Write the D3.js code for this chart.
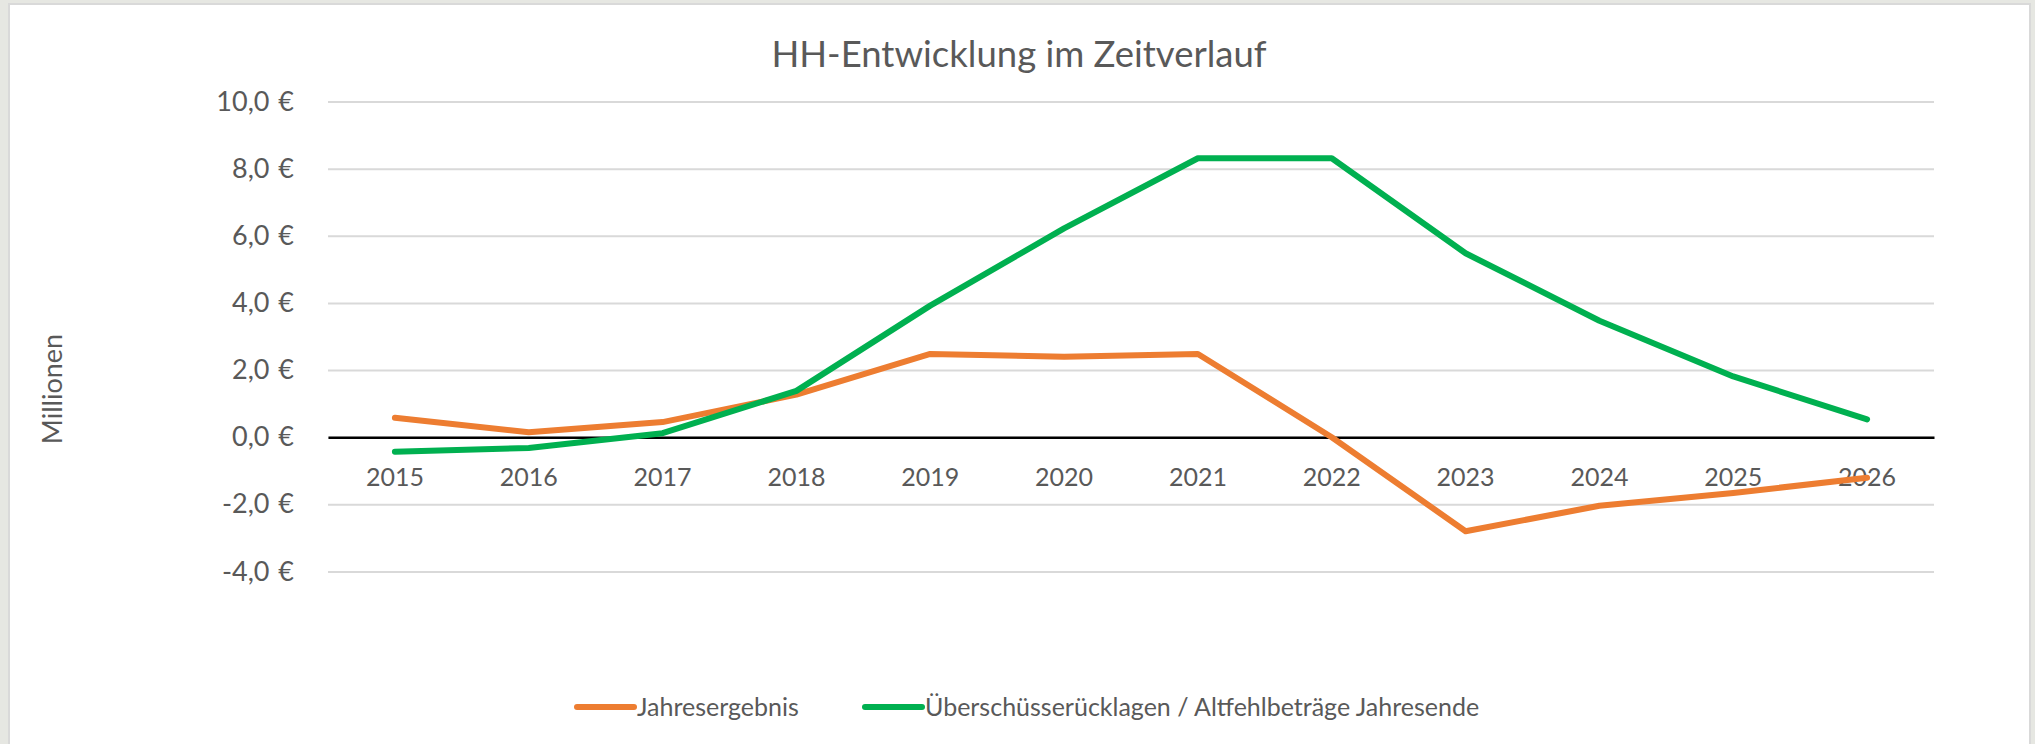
<!DOCTYPE html>
<html>
<head>
<meta charset="utf-8">
<script src="https://cdn.jsdelivr.net/npm/d3@7"></script>
<style>
  html, body { margin: 0; padding: 0; background: #e6e7e2; }
  svg { display: block; font-family: Lato, "Open Sans", sans-serif; }
</style>
</head>
<body>
<div id="chart"></div>
<script>
// values in millions of euro
const years = ["2015", "2016", "2017", "2018", "2019", "2020", "2021", "2022", "2023", "2024", "2025", "2026"];
const jahresergebnis = [0.58, 0.15, 0.45, 1.27, 2.48, 2.40, 2.48, 0.0, -2.80, -2.04, -1.66, -1.21];
const ruecklagen = [-0.43, -0.32, 0.12, 1.38, 3.92, 6.22, 8.31, 8.31, 5.48, 3.47, 1.81, 0.53];
const yTicks = [-4, -2, 0, 2, 4, 6, 8, 10];

const seriesNames = ["Jahresergebnis", "Überschüsserücklagen / Altfehlbeträge Jahresende"];
const seriesColors = ["#ed7d31", "#00b050"];

const W = 2035, H = 744;
const margin = { top: 101.5, right: 101, bottom: 172.5, left: 328 };
const width = W - margin.left - margin.right;
const height = H - margin.top - margin.bottom;

const root = d3.select("#chart")
  .append("svg")
  .attr("width", W)
  .attr("height", H);

// chart frame
root.append("rect")
  .attr("x", 9).attr("y", 4)
  .attr("width", 2021).attr("height", H + 10)
  .attr("fill", "#ffffff")
  .attr("stroke", "#d9d9d9")
  .attr("stroke-width", 2);

// title
root.append("text")
  .attr("x", 1019)
  .attr("y", 67)
  .attr("text-anchor", "middle")
  .attr("fill", "#595959")
  .attr("font-size", 36.5)
  .text("HH-Entwicklung im Zeitverlauf");

const svg = root.append("g")
  .attr("transform", `translate(${margin.left},${margin.top})`);

const x = d3.scaleBand()
  .domain(years)
  .range([0, width])
  .padding(0);

const y = d3.scaleLinear()
  .domain([-4, 10])
  .range([height, 0]);

// gridlines + y labels
const yAxis = svg.append("g")
  .call(d3.axisLeft(y)
    .tickValues(yTicks)
    .tickSize(-width)
    .tickPadding(34)
    .tickFormat(d => d.toFixed(1).replace(".", ",") + " €"));

yAxis.select(".domain").remove();
yAxis.selectAll(".tick line")
  .attr("stroke", "#d9d9d9")
  .attr("stroke-width", 2);
yAxis.selectAll(".tick text")
  .attr("fill", "#595959")
  .attr("font-size", 27)
  .attr("word-spacing", 2)
  .attr("font-family", "Lato, sans-serif");

// zero line with category labels below it
const xAxis = svg.append("g")
  .attr("transform", `translate(0,${y(0)})`)
  .call(d3.axisBottom(x).tickSize(0).tickPadding(31));

xAxis.select(".domain")
  .attr("stroke", "#000000")
  .attr("stroke-width", 2.5);
xAxis.selectAll(".tick text")
  .attr("fill", "#595959")
  .attr("font-size", 25)
  .attr("font-family", "Lato, sans-serif");

// lines
const line = d3.line()
  .x((d, i) => x(years[i]) + x.bandwidth() / 2)
  .y(d => y(d));

[jahresergebnis, ruecklagen].forEach((values, i) => {
  svg.append("path")
    .datum(values)
    .attr("fill", "none")
    .attr("stroke", seriesColors[i])
    .attr("stroke-width", 6)
    .attr("stroke-linejoin", "round")
    .attr("stroke-linecap", "round")
    .attr("d", line);
});

// y axis title
root.append("text")
  .attr("transform", "translate(62,389) rotate(-90)")
  .attr("text-anchor", "middle")
  .attr("fill", "#595959")
  .attr("font-size", 27)
  .text("Millionen");

// legend
const legend = root.append("g")
  .attr("transform", "translate(0,707)");

const legendX = [577, 865];
seriesNames.forEach((name, i) => {
  const g = legend.append("g").attr("transform", `translate(${legendX[i]},0)`);
  g.append("line")
    .attr("x1", 0).attr("x2", 57)
    .attr("stroke", seriesColors[i])
    .attr("stroke-width", 6)
    .attr("stroke-linecap", "round");
  g.append("text")
    .attr("x", 60)
    .attr("y", 9)
    .attr("fill", "#595959")
    .attr("font-size", 25)
    .text(name);
});
</script>
</body>
</html>
